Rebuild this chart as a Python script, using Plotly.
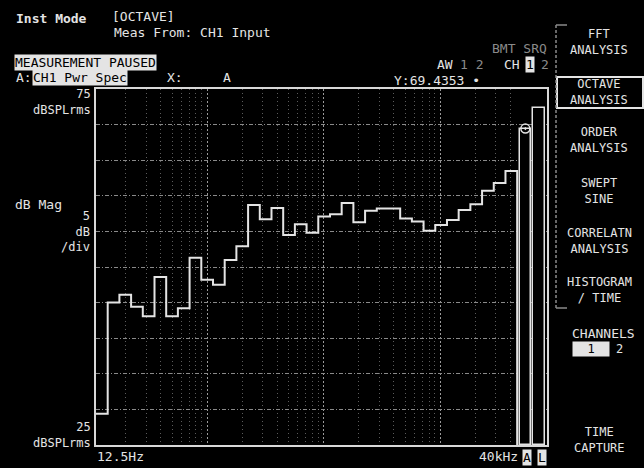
import math
import plotly.graph_objects as go

# 1/3-octave band centre frequencies (Hz)
bands_hz = [12.5, 16, 20, 25, 31.5, 40, 50, 63, 80, 100,
            125, 160, 200, 250, 315, 400, 500, 630, 800, 1000,
            1250, 1600, 2000, 2500, 3150, 4000, 5000, 6300, 8000, 10000,
            12500, 16000, 20000, 25000, 31500, 40000]
# band power, dBSPL rms
levels_db = [29.4, 45.0, 46.1, 44.4, 43.1, 48.6, 43.1, 44.2, 51.3, 48.2,
             47.5, 51.0, 52.9, 58.7, 56.7, 58.3, 54.5, 56.0, 54.8, 57.1,
             57.4, 59.0, 56.3, 57.9, 58.2, 58.2, 56.8, 56.4, 55.1, 55.9,
             56.6, 58.0, 58.8, 60.7, 61.8, 63.5]
# overall bars: A-weighted and linear
overall_labels = ["A", "L"]
overall_db = [69.4353, 72.3]

y_top, y_bot = 75, 25
y_grid = [30, 35, 40, 45, 50, 55, 60, 65, 70]
grid_hz = [m * d for d in (10, 100, 1000, 10000) for m in range(1, 10)] + [20000, 30000, 40000]
grid_hz = sorted(set(f for f in grid_hz if f >= 12.5 and f <= 40000))
decades_hz = [100, 1000, 10000]


def band_pos(f):
    # position on the band-index axis (band centres at 0, 1, 2, ...)
    return 3 * math.log2(f / bands_hz[0])


n = len(bands_hz)
edges = [i - 0.5 for i in range(n)] + [n - 0.5, n - 0.5]
step_y = levels_db + [levels_db[-1], y_bot]

FG = "#e4e4e4"
DIM = "#8a8a8a"
FONT = "DejaVu Sans Mono"

fig = go.Figure()

fig.add_trace(go.Scatter(
    x=edges, y=step_y, mode="lines", line=dict(shape="hv", color=FG, width=2),
    hoverinfo="skip", showlegend=False))

bar_x = [n + 0.2, n + 1.35]
fig.add_trace(go.Bar(
    x=bar_x, y=[v - y_bot for v in overall_db], base=y_bot, width=1.0,
    marker=dict(color="black", line=dict(color=FG, width=1.5)),
    hoverinfo="skip", showlegend=False))

fig.add_trace(go.Scatter(
    x=[bar_x[0]], y=[overall_db[0]], mode="markers",
    marker=dict(symbol="circle-open-dot", size=9, color=FG, line=dict(width=1.5, color=FG)),
    hoverinfo="skip", showlegend=False))

PL, PR, PT, PB = 96, 547, 89, 445
W, H = 644, 468


def pp(x, y):
    return (x - PL) / (PR - PL), (PB - y) / (PB - PT)


def label(text, x, y, anchor="left", color=FG, size=13, inverse=False, bold=False):
    px_, py_ = pp(x, y)
    t = f"<b>{text}</b>" if bold else text
    kw = dict(bgcolor=FG, borderpad=0) if inverse else {}
    fig.add_annotation(
        text=t, x=px_, y=py_, xref="paper", yref="paper",
        xanchor=anchor, yanchor="middle", showarrow=False, align=anchor if anchor != "center" else "center",
        font=dict(family=FONT, size=size, color="black" if inverse else color), **kw)


# header
label("Inst Mode", 14, 18, bold=True)
label("[OCTAVE]", 110, 17)
label("Meas From: CH1 Input", 112, 32)
label("MEASUREMENT PAUSED", 14, 62, inverse=True)
label("A:", 14, 77.5)
label("CH1 Pwr Spec", 32, 77.5, inverse=True)
label("X:", 165, 77.5)
label(overall_labels[0], 221, 77.5)
label(f"Y:{overall_db[0]:.4f} \u2022", 392, 80)
label("BMT SRQ", 490, 49, color=DIM)
label("AW", 435, 64)
label("1 2", 458, 64, color=DIM)
label("CH", 502, 64)
label("1", 525, 64, inverse=True)
label("2", 539, 64, color=DIM)

# y-axis annotations
label(f"{y_top}<br>dBSPLrms", 93, 102.5, anchor="right", size=12)
label("dB Mag", 13, 204)
label("5<br>dB<br>/div", 92, 231, anchor="right", size=12)
label(f"{y_bot}<br>dBSPLrms", 93, 435, anchor="right", size=12)

# x-axis annotations
label("12.5Hz", 95, 456)
label("40kHz", 520, 456, anchor="right")
label(overall_labels[0], 522, 457, inverse=True)
label(overall_labels[1], 537, 457, inverse=True)

# softkey menu
menu = [("FFT<br>ANALYSIS", 42), ("OCTAVE<br>ANALYSIS", 92),
        ("ORDER<br>ANALYSIS", 140), ("SWEPT<br>SINE", 191),
        ("CORRELATN<br>ANALYSIS", 241), ("HISTOGRAM<br>/ TIME", 290),
        ("TIME<br>CAPTURE", 440)]
for txt, yy in menu:
    label(txt, 599, yy, anchor="center", size=12)
label("CHANNELS", 603, 333, anchor="center")
label("\u00a0\u00a01\u00a0\u00a0", 591, 349, anchor="center", inverse=True, size=12)
label("2", 619, 349, anchor="center", size=12)

# selected-softkey box and menu bracket
x0, y0 = pp(557, 77)
x1, y1 = pp(643, 108)
fig.add_shape(type="rect", xref="paper", yref="paper", x0=x0, y0=y0, x1=x1, y1=y1,
              line=dict(color=FG, width=2))
bx, by0 = pp(556, 25)
_, by1 = pp(556, 308)
bx2, _ = pp(567, 25)
fig.add_shape(type="line", xref="paper", yref="paper", x0=bx, x1=bx, y0=by0, y1=by1,
              line=dict(color=DIM, width=1.5, dash="3px,2px"))
for yy in (by0, by1):
    fig.add_shape(type="line", xref="paper", yref="paper", x0=bx, x1=bx2, y0=yy, y1=yy,
                  line=dict(color=DIM, width=1.5))

minor_pos = [band_pos(f) for f in grid_hz if f not in decades_hz]
major_pos = [band_pos(f) for f in decades_hz]

fig.update_layout(
    width=W, height=H,
    margin=dict(l=PL, r=W - PR, t=PT, b=H - PB),
    paper_bgcolor="black", plot_bgcolor="black",
    bargap=0,
    xaxis=dict(range=[-0.5, 38.05], tickmode="array", tickvals=major_pos,
               showticklabels=False, ticks="", zeroline=False,
               showgrid=True, gridcolor="#9a9a9a", gridwidth=1, griddash="2px,2px",
               minor=dict(tickmode="array", tickvals=minor_pos, showgrid=True,
                          gridcolor="#5c5c5c", gridwidth=1, griddash="1px,3px", ticks=""),
               showline=True, mirror=True, linecolor="#d8d8d8", linewidth=2),
    yaxis=dict(range=[y_bot, y_top], tickmode="array", tickvals=y_grid,
               showticklabels=False, ticks="", zeroline=False,
               showgrid=True, gridcolor="#8a8a8a", gridwidth=1, griddash="4px,2px,1px,2px",
               showline=True, mirror=True, linecolor="#d8d8d8", linewidth=2),
)

fig.write_html("out.html")
